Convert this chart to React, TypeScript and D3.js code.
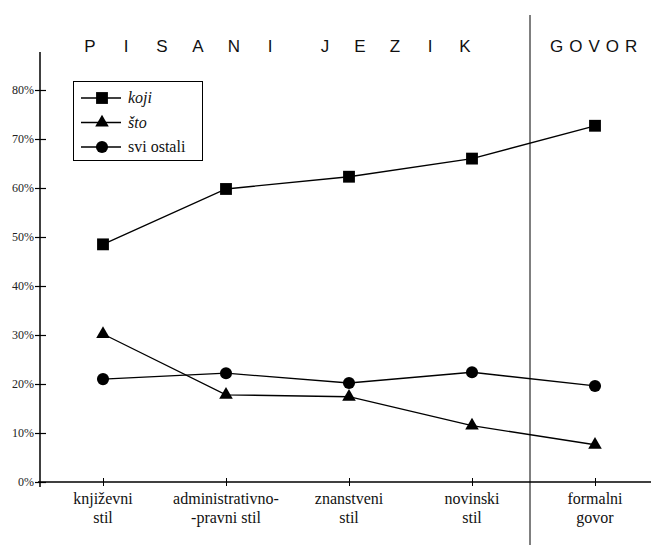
import { useEffect, useRef } from "react";
import * as d3 from "d3";

const categories = ["književni\nstil", "administrativno-\n-pravni stil", "znanstveni\nstil", "novinski\nstil", "formalni\ngovor"];
const koji = [48.5, 59.8, 62.3, 66.0, 72.7];
const sto = [30.2, 17.8, 17.4, 11.5, 7.6];
const sviOstali = [21.0, 22.2, 20.2, 22.4, 19.6];
const yTicks = [0, 10, 20, 30, 40, 50, 60, 70, 80];
const seriesNames = ["koji", "što", "svi ostali"];
const titleWords = ["PISANI", "JEZIK"];

const serif = "'Liberation Serif', 'Times New Roman', serif";
const sans = "'Liberation Sans', Arial, sans-serif";

function App() {
  const ref = useRef<SVGGElement>(null);

  useEffect(() => {
    const svg = d3.select(ref.current);
    svg.selectAll("*").remove();

    const x = d3.scalePoint().domain(categories).range([103, 595]);
    const y = d3.scaleLinear().domain([0, 80]).range([482, 90]);

    // y axis
    const yAxis = d3.axisLeft(y).tickValues(yTicks).tickFormat((d) => d + "%").tickSize(6).tickSizeOuter(0);
    const gy = svg.append("g").attr("transform", "translate(40,0)").call(yAxis);
    gy.attr("font-family", null).attr("font-size", null);
    gy.select(".domain").remove();
    gy.selectAll(".tick line").attr("x1", -5).attr("x2", 6).attr("stroke", "#000").attr("stroke-width", 1.2);
    gy.selectAll(".tick text").attr("x", -6).attr("fill", "#222").attr("class", "serif").style("font-size", "12px");
    svg.append("line").attr("x1", 40).attr("x2", 40).attr("y1", 52).attr("y2", 487).attr("stroke", "#000").attr("stroke-width", 1.5);

    // x axis
    const xAxis = d3.axisBottom(x).tickSize(4).tickSizeOuter(0).tickFormat(() => "");
    const gx = svg.append("g").attr("transform", "translate(0,482)").call(xAxis);
    gx.select(".domain").remove();
    gx.selectAll(".tick line").attr("y1", -4).attr("y2", 4).attr("stroke", "#000");
    svg.append("line").attr("x1", 38).attr("x2", 651).attr("y1", 482).attr("y2", 482).attr("stroke", "#000").attr("stroke-width", 1.5);

    categories.forEach((c) => {
      c.split("\n").forEach((line, i) => {
        svg.append("text").attr("x", x(c)!).attr("y", 504 + i * 18.5).attr("text-anchor", "middle")
          .attr("class", "serif").style("font-size", "16px").attr("fill", "#111").text(line);
      });
    });

    // divider
    svg.append("line").attr("x1", 530).attr("x2", 530).attr("y1", 15).attr("y2", 545).attr("stroke", "#000").attr("stroke-width", 1);

    // section titles, letter by letter
    const wordStart = [90, 325];
    const wordStep = [36, 35];
    titleWords.forEach((w, wi) => {
      w.split("").forEach((ch, i) => {
        svg.append("text").attr("x", wordStart[wi] + i * wordStep[wi]).attr("y", 52)
          .attr("text-anchor", "middle").attr("class", "sans").style("font-size", "17px")
          .attr("fill", "#111").text(ch);
      });
    });
    svg.append("text").attr("x", 550).attr("y", 52).attr("class", "sans")
      .style("font-size", "17px").style("letter-spacing", "6px").attr("fill", "#111").text("GOVOR");

    const data = [koji, sto, sviOstali];
    const symbols = [d3.symbolSquare, d3.symbolTriangle, d3.symbolCircle];
    const sizes = [140, 80, 115];

    data.forEach((vals, si) => {
      const line = d3.line<number>().x((_, i) => x(categories[i])!).y((d) => y(d));
      svg.append("path").attr("d", line(vals)).attr("fill", "none").attr("stroke", "#000").attr("stroke-width", 1.3);
      const sym = d3.symbol().type(symbols[si]).size(sizes[si]);
      vals.forEach((v, i) => {
        svg.append("path").attr("d", sym()).attr("fill", "#000")
          .attr("transform", `translate(${x(categories[i])},${y(v)})`);
      });
    });

    // legend
    const lg = svg.append("g");
    lg.append("rect").attr("x", 73.5).attr("y", 81.5).attr("width", 129).attr("height", 79)
      .attr("fill", "#fff").attr("stroke", "#000").attr("stroke-width", 1);
    seriesNames.forEach((name, i) => {
      const yy = 98 + i * 24.5;
      lg.append("line").attr("x1", 81).attr("x2", 121).attr("y1", yy).attr("y2", yy).attr("stroke", "#000").attr("stroke-width", 1.3);
      const sym = d3.symbol().type(symbols[i]).size(sizes[i]);
      lg.append("path").attr("d", sym()).attr("fill", "#000").attr("transform", `translate(102,${yy})`);
      lg.append("text").attr("x", 128).attr("y", yy + 5).attr("class", "serif").style("font-size", "16px")
        .style("font-style", i < 2 ? "italic" : "normal").attr("fill", "#111").text(name);
    });
  }, []);

  return (
    <svg width={651} height={545} style={{ position: "absolute", left: 0, top: 0, background: "#fff" }}>
      <style>{`.serif{font-family:${serif};} .sans{font-family:${sans};}`}</style>
      <g ref={ref} />
    </svg>
  );
}

export default App;
